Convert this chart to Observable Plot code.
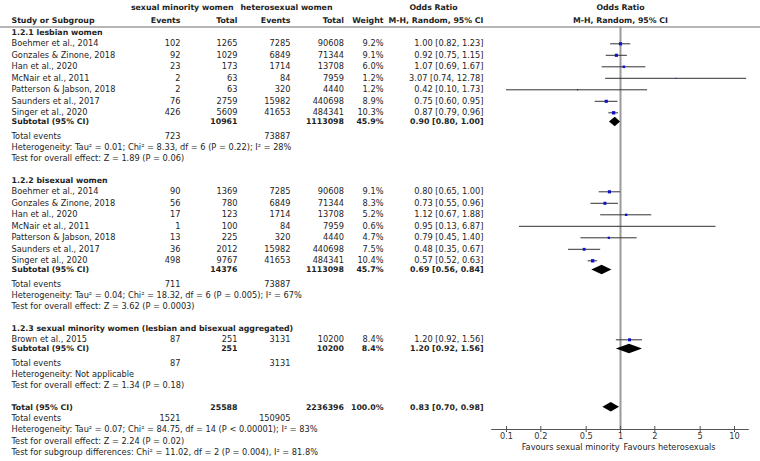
<!DOCTYPE html>
<html>
<head>
<meta charset="utf-8">
<script src="https://cdn.jsdelivr.net/npm/d3@7"></script>
<script src="https://cdn.jsdelivr.net/npm/@observablehq/plot@0.6"></script>
<style>
  html, body { margin: 0; padding: 0; background: #fff; }
  #chart svg { display: block; }
</style>
</head>
<body>
<div id="chart"></div>
<script>
// ---------------- DATA ----------------
const headerGroups = ["sexual minority women", "heterosexual women"];
const columnHeaders = ["Study or Subgroup", "Events", "Total", "Events", "Total", "Weight", "M-H, Random, 95% CI", "M-H, Random, 95% CI"];
const orTitle = "Odds Ratio";

const groupLabels = [
  "1.2.1 lesbian women",
  "1.2.2 bisexual women",
  "1.2.3 sexual minority women (lesbian and bisexual aggregated)"
];

const studies1 = ["Boehmer et al., 2014", "Gonzales & Zinone, 2018", "Han et al., 2020", "McNair et al., 2011", "Patterson & Jabson, 2018", "Saunders et al., 2017", "Singer et al., 2020"];
const smwEvents1 = [102, 92, 23, 2, 2, 76, 426];
const smwTotal1 = [1265, 1029, 173, 63, 63, 2759, 5609];
const hetEvents1 = [7285, 6849, 1714, 84, 320, 15982, 41653];
const hetTotal1 = [90608, 71344, 13708, 7959, 4440, 440698, 484341];
const weight1 = [9.2, 9.1, 6.0, 1.2, 1.2, 8.9, 10.3];
const or1 = [1.00, 0.92, 1.07, 3.07, 0.42, 0.75, 0.87];
const lo1 = [0.82, 0.75, 0.69, 0.74, 0.10, 0.60, 0.79];
const hi1 = [1.23, 1.15, 1.67, 12.78, 1.73, 0.95, 0.96];

const studies2 = ["Boehmer et al., 2014", "Gonzales & Zinone, 2018", "Han et al., 2020", "McNair et al., 2011", "Patterson & Jabson, 2018", "Saunders et al., 2017", "Singer et al., 2020"];
const smwEvents2 = [90, 56, 17, 1, 13, 36, 498];
const smwTotal2 = [1369, 780, 123, 100, 225, 2012, 9767];
const hetEvents2 = [7285, 6849, 1714, 84, 320, 15982, 41653];
const hetTotal2 = [90608, 71344, 13708, 7959, 4440, 440698, 484341];
const weight2 = [9.1, 8.3, 5.2, 0.6, 4.7, 7.5, 10.4];
const or2 = [0.80, 0.73, 1.12, 0.95, 0.79, 0.48, 0.57];
const lo2 = [0.65, 0.55, 0.67, 0.13, 0.45, 0.35, 0.52];
const hi2 = [1.00, 0.96, 1.88, 6.87, 1.40, 0.67, 0.63];

const studies3 = ["Brown et al., 2015"];
const smwEvents3 = [87];
const smwTotal3 = [251];
const hetEvents3 = [3131];
const hetTotal3 = [10200];
const weight3 = [8.4];
const or3 = [1.20];
const lo3 = [0.92];
const hi3 = [1.56];

// subtotals per group
const subSmwTotal = [10961, 14376, 251];
const subHetTotal = [1113098, 1113098, 10200];
const subWeight = [45.9, 45.7, 8.4];
const subOR = [0.90, 0.69, 1.20];
const subLo = [0.80, 0.56, 0.92];
const subHi = [1.00, 0.84, 1.56];
const subSmwEvents = [723, 711, 87];
const subHetEvents = [73887, 73887, 3131];
const subHeterogeneity = [
  "Heterogeneity: Tau² = 0.01; Chi² = 8.33, df = 6 (P = 0.22); I² = 28%",
  "Heterogeneity: Tau² = 0.04; Chi² = 18.32, df = 6 (P = 0.005); I² = 67%",
  "Heterogeneity: Not applicable"
];
const subOverall = [
  "Test for overall effect: Z = 1.89 (P = 0.06)",
  "Test for overall effect: Z = 3.62 (P = 0.0003)",
  "Test for overall effect: Z = 1.34 (P = 0.18)"
];

// overall total
const totalLabel = "Total (95% CI)";
const totSmwTotal = 25588, totHetTotal = 2236396, totWeight = 100.0;
const totOR = 0.83, totLo = 0.70, totHi = 0.98;
const totSmwEvents = 1521, totHetEvents = 150905;
const totHeterogeneity = "Heterogeneity: Tau² = 0.07; Chi² = 84.75, df = 14 (P < 0.00001); I² = 83%";
const totOverall = "Test for overall effect: Z = 2.24 (P = 0.02)";
const totSubgroup = "Test for subgroup differences: Chi² = 11.02, df = 2 (P = 0.004), I² = 81.8%";

const axisTicks = [0.1, 0.2, 0.5, 1, 2, 5, 10];
const favoursLeft = "Favours sexual minority";
const favoursRight = "Favours heterosexuals";

// ---------------- LAYOUT ----------------
const W = 760, H = 461;
const FONT = "'DejaVu Sans', Verdana, sans-serif";
const ctx = document.createElement("canvas").getContext("2d");
ctx.font = `10px ${FONT}`;
const refW = ctx.measureText("Boehmer et al., 2014").width + ctx.measureText(subHeterogeneity[0]).width;
let FS = 10 * (85.7 + 282) / refW;
FS = Math.max(7.5, Math.min(10.2, FS));
const BFS = FS * 0.95;

const col = { label: 11, smwEv: 180, smwTot: 237, hetEv: 290, hetTot: 343.5, weight: 383, orText: 483,
              smwHead: 181.7, hetHead: 286, orHead: 433 };
const L = { head1: 7.3, head2: 20, rule: 26.5, firstGroup: 31.7,
            gStudy: 11.6, studyStudy: 11.5, studySub: Math.max(8.5, FS + 0.9), teHet: 11.5, hetTest: 11.1, testNext: 21.4,
            totTE: 11.6, totHet: 11.0, totTest: 11.4, totSub: 11.0,
            axis: 429, favours: 447, diamondHalf: 4.8, axisPadDecades: 0.13 };
L.subTE = 23.4 - L.studySub;

const fmtOR = (o, l, h) => `${o.toFixed(2)} [${l.toFixed(2)}, ${h.toFixed(2)}]`;
const fmtW = w => `${w.toFixed(1)}%`;

const groups = [
  { studies: studies1, se: smwEvents1, st: smwTotal1, he: hetEvents1, ht: hetTotal1, w: weight1, or: or1, lo: lo1, hi: hi1 },
  { studies: studies2, se: smwEvents2, st: smwTotal2, he: hetEvents2, ht: hetTotal2, w: weight2, or: or2, lo: lo2, hi: hi2 },
  { studies: studies3, se: smwEvents3, st: smwTotal3, he: hetEvents3, ht: hetTotal3, w: weight3, or: or3, lo: lo3, hi: hi3 }
];

const cells = [];   // {y, col, text, bold, anchor}
const studyPts = [];
const diamondPts = [];
const cell = (y, c, text, bold = false, anchor = "end") => cells.push({ y, col: c, text: String(text), bold, anchor });
const addDiamond = (id, y, o, l, h) => {
  diamondPts.push({ id, x: l, y1: y, y2: y });
  diamondPts.push({ id, x: o, y1: y - L.diamondHalf, y2: y + L.diamondHalf });
  diamondPts.push({ id, x: h, y1: y, y2: y });
};

// headers
cell(L.head1, "smwHead", headerGroups[0], true, "middle");
cell(L.head1, "hetHead", headerGroups[1], true, "middle");
cell(L.head1, "orHead", orTitle, true, "middle");
cell(L.head2, "label", columnHeaders[0], true, "start");
cell(L.head2, "smwEv", columnHeaders[1], true);
cell(L.head2, "smwTot", columnHeaders[2], true);
cell(L.head2, "hetEv", columnHeaders[3], true);
cell(L.head2, "hetTot", columnHeaders[4], true);
cell(L.head2, "weight", columnHeaders[5], true);
cell(L.head2, "orText", columnHeaders[6], true);

let y = L.firstGroup;
groups.forEach((g, gi) => {
  if (gi > 0) y += L.testNext;
  cell(y, "label", groupLabels[gi], true, "start");
  y += L.gStudy;
  g.studies.forEach((s, i) => {
    if (i > 0) y += L.studyStudy;
    cell(y, "label", s, false, "start");
    cell(y, "smwEv", g.se[i]);
    cell(y, "smwTot", g.st[i]);
    cell(y, "hetEv", g.he[i]);
    cell(y, "hetTot", g.ht[i]);
    cell(y, "weight", fmtW(g.w[i]));
    cell(y, "orText", fmtOR(g.or[i], g.lo[i], g.hi[i]));
    studyPts.push({ y, or: g.or[i], lo: g.lo[i], hi: g.hi[i], w: g.w[i] });
  });
  y += L.studySub;
  cell(y, "label", "Subtotal (95% CI)", true, "start");
  cell(y, "smwTot", subSmwTotal[gi], true);
  cell(y, "hetTot", subHetTotal[gi], true);
  cell(y, "weight", fmtW(subWeight[gi]), true);
  cell(y, "orText", fmtOR(subOR[gi], subLo[gi], subHi[gi]), true);
  addDiamond("g" + gi, y, subOR[gi], subLo[gi], subHi[gi]);
  y += L.subTE;
  cell(y, "label", "Total events", false, "start");
  cell(y, "smwEv", subSmwEvents[gi]);
  cell(y, "hetEv", subHetEvents[gi]);
  y += L.teHet;
  cell(y, "label", subHeterogeneity[gi], false, "start");
  y += L.hetTest;
  cell(y, "label", subOverall[gi], false, "start");
});
y += L.testNext;
cell(y, "label", totalLabel, true, "start");
cell(y, "smwTot", totSmwTotal, true);
cell(y, "hetTot", totHetTotal, true);
cell(y, "weight", fmtW(totWeight), true);
cell(y, "orText", fmtOR(totOR, totLo, totHi), true);
addDiamond("total", y, totOR, totLo, totHi);
y += L.totTE;
cell(y, "label", "Total events", false, "start");
cell(y, "smwEv", totSmwEvents);
cell(y, "hetEv", totHetEvents);
y += L.totHet;
cell(y, "label", totHeterogeneity, false, "start");
y += L.totTest;
cell(y, "label", totOverall, false, "start");
y += L.totSub;
cell(y, "label", totSubgroup, false, "start");

// text marks per column / weight / anchor
const textMarks = [];
const keys = d3.groups(cells, d => `${d.col}|${d.bold}|${d.anchor}`);
for (const [k, arr] of keys) {
  const [c, b, a] = k.split("|");
  const bold = b === "true";
  textMarks.push(Plot.text(arr, {
    y: "y", text: "text", frameAnchor: "left", dx: col[c], textAnchor: a,
    fontWeight: bold ? "bold" : "normal", fill: "#1e1e1e", fontSize: bold ? BFS : FS
  }));
}

const xDomain = [0.1, 10];
const padF = Math.pow(10, L.axisPadDecades);

const chart = Plot.plot({
  width: W, height: H,
  marginLeft: 0, marginRight: 0, marginTop: 0, marginBottom: H - L.axis,
  style: { fontFamily: FONT, fontSize: FS + "px", background: "#fff", color: "#1e1e1e" },
  x: { type: "log", domain: xDomain, range: [506, 734], label: null },
  y: { type: "linear", domain: [0, H], range: [0, H], axis: null },
  r: { type: "sqrt", domain: [0, 10.4], range: [0, 1.9] },
  marks: [
    Plot.ruleY([L.rule], { stroke: "#6e6e6e", strokeWidth: 1.2 }),
    ...textMarks,
    Plot.text([{ x: 1, y: L.head1, t: orTitle }, { x: 1, y: L.head2, t: columnHeaders[7] }],
      { x: "x", y: "y", text: "t", fontWeight: "bold", fill: "#1e1e1e", fontSize: BFS }),
    Plot.ruleX([1], { y1: L.rule, y2: L.axis, stroke: "#9a9a9a", strokeWidth: 2 }),
    Plot.ruleY(studyPts, { y: "y", x1: "lo", x2: "hi", stroke: "#333", strokeWidth: 1 }),
    Plot.dot(studyPts, { x: "or", y: "y", r: "w", symbol: "square", fill: "#1010c8", stroke: "none" }),
    Plot.areaY(diamondPts, { x: "x", y1: "y1", y2: "y2", z: "id", fill: "#000", curve: "linear" }),
    Plot.ruleY([L.axis], { x1: () => xDomain[0] / padF, x2: () => xDomain[1] * padF, stroke: "#555", strokeWidth: 1 }),
    Plot.ruleX(axisTicks, { x: d => d, y1: L.axis - 3, y2: L.axis, stroke: "#555" }),
    Plot.axisX({ ticks: axisTicks, tickFormat: d => String(d), tickSize: 3, tickPadding: 0.5, stroke: "#555", fill: "#333", fontSize: FS, label: null }),
    Plot.text([{ x: 1, t: favoursLeft }], { x: "x", y: () => L.favours, text: "t", textAnchor: "end", dx: -1, fill: "#1e1e1e", fontSize: FS }),
    Plot.text([{ x: 1, t: favoursRight }], { x: "x", y: () => L.favours, text: "t", textAnchor: "start", dx: 3, fill: "#1e1e1e", fontSize: FS })
  ]
});
document.getElementById("chart").appendChild(chart);
</script>
</body>
</html>
